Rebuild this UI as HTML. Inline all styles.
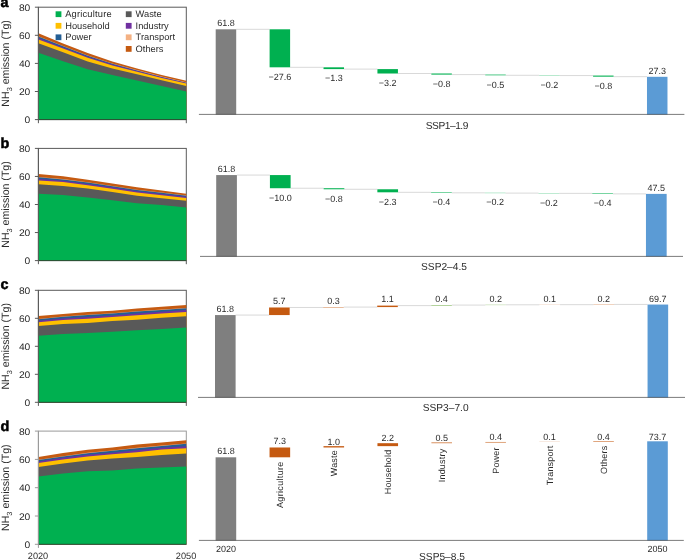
<!DOCTYPE html>
<html><head><meta charset="utf-8"><title>NH3 emission figure</title>
<style>
html,body{margin:0;padding:0;background:#fff;}
body{width:685px;height:560px;overflow:hidden;}
svg{display:block;font-family:"Liberation Sans", sans-serif;text-rendering:geometricPrecision;}
</style></head>
<body>
<svg width="685" height="560" viewBox="0 0 685 560">
<rect x="0" y="0" width="685" height="560" fill="#fff"/>
<rect x="38.4" y="7.2" width="147.9" height="112.4" fill="none" stroke="#5a5a5a" stroke-width="1"/>
<path d="M38.4,33.2 L63.05,43.4 L87.7,53.1 L112.35,61.4 L137,68.4 L161.65,75.1 L186.3,80.8 L186.3,119.6 L38.4,119.6 Z" fill="#C55A11"/>
<path d="M38.4,36.2 L63.05,46 L87.7,55.5 L112.35,63.5 L137,70.1 L161.65,76.6 L186.3,82.3 L186.3,119.6 L38.4,119.6 Z" fill="#F4B183"/>
<path d="M38.4,36.55 L63.05,46.35 L87.7,55.85 L112.35,63.85 L137,70.45 L161.65,76.95 L186.3,82.65 L186.3,119.6 L38.4,119.6 Z" fill="#235E94"/>
<path d="M38.4,38.1 L63.05,47.5 L87.7,56.8 L112.35,64.6 L137,71 L161.65,77.2 L186.3,83 L186.3,119.6 L38.4,119.6 Z" fill="#7030A0"/>
<path d="M38.4,39.4 L63.05,48.6 L87.7,57.8 L112.35,65.4 L137,71.8 L161.65,77.9 L186.3,83.6 L186.3,119.6 L38.4,119.6 Z" fill="#FFC000"/>
<path d="M38.4,43.3 L63.05,52.25 L87.7,61.5 L112.35,68.4 L137,74.2 L161.65,80.2 L186.3,86 L186.3,119.6 L38.4,119.6 Z" fill="#595959"/>
<path d="M38.4,52.7 L63.05,61.3 L87.7,69.2 L112.35,75.1 L137,80.4 L161.65,86 L186.3,91.6 L186.3,119.6 L38.4,119.6 Z" fill="#00B050"/>
<line x1="38.4" y1="119.6" x2="186.3" y2="119.6" stroke="#1f3b2a" stroke-opacity="0.75" stroke-width="1"/>
<line x1="38.4" y1="7.2" x2="38.4" y2="119.6" stroke="#5a5a5a" stroke-width="1"/>
<line x1="34.9" y1="119.6" x2="38.4" y2="119.6" stroke="#5a5a5a" stroke-width="1"/>
<text transform="translate(30.3,123.1) scale(1.08,1)" text-anchor="end" font-size="9.5" fill="#2b2b2b">0</text>
<line x1="34.9" y1="91.5" x2="38.4" y2="91.5" stroke="#5a5a5a" stroke-width="1"/>
<text transform="translate(30.3,95) scale(1.08,1)" text-anchor="end" font-size="9.5" fill="#2b2b2b">20</text>
<line x1="34.9" y1="63.4" x2="38.4" y2="63.4" stroke="#5a5a5a" stroke-width="1"/>
<text transform="translate(30.3,66.9) scale(1.08,1)" text-anchor="end" font-size="9.5" fill="#2b2b2b">40</text>
<line x1="34.9" y1="35.3" x2="38.4" y2="35.3" stroke="#5a5a5a" stroke-width="1"/>
<text transform="translate(30.3,38.8) scale(1.08,1)" text-anchor="end" font-size="9.5" fill="#2b2b2b">60</text>
<line x1="34.9" y1="7.2" x2="38.4" y2="7.2" stroke="#5a5a5a" stroke-width="1"/>
<text transform="translate(30.3,10.7) scale(1.08,1)" text-anchor="end" font-size="9.5" fill="#2b2b2b">80</text>
<line x1="38.4" y1="119.6" x2="38.4" y2="123.2" stroke="#5a5a5a" stroke-width="1"/>
<line x1="186.3" y1="119.6" x2="186.3" y2="123.2" stroke="#5a5a5a" stroke-width="1"/>
<text transform="translate(8.9,63.4) rotate(-90)" text-anchor="middle" font-size="10.6" fill="#2b2b2b">NH<tspan font-size="7.4" dy="2.6">3</tspan><tspan dy="-2.6"> emission (Tg)</tspan></text>
<text x="0.5" y="7.4" font-size="14.4" font-weight="bold" fill="#000" stroke="#000" stroke-width="0.5">a</text>
<rect x="38.4" y="148.4" width="147.9" height="112.2" fill="none" stroke="#5a5a5a" stroke-width="1"/>
<path d="M38.4,174.1 L63.05,176.3 L87.7,179.75 L112.35,183.45 L137,187.25 L161.65,190.5 L186.3,193.75 L186.3,260.6 L38.4,260.6 Z" fill="#C55A11"/>
<path d="M38.4,177 L63.05,179.1 L87.7,182.25 L112.35,185.9 L137,189.75 L161.65,192.5 L186.3,195.5 L186.3,260.6 L38.4,260.6 Z" fill="#F4B183"/>
<path d="M38.4,177.35 L63.05,179.45 L87.7,182.6 L112.35,186.25 L137,190.1 L161.65,192.85 L186.3,195.85 L186.3,260.6 L38.4,260.6 Z" fill="#235E94"/>
<path d="M38.4,178.95 L63.05,180.8 L87.7,184 L112.35,187.3 L137,191.25 L161.65,194 L186.3,196.75 L186.3,260.6 L38.4,260.6 Z" fill="#7030A0"/>
<path d="M38.4,180.45 L63.05,182.1 L87.7,185.25 L112.35,188.8 L137,192.5 L161.65,195.25 L186.3,198 L186.3,260.6 L38.4,260.6 Z" fill="#FFC000"/>
<path d="M38.4,184.2 L63.05,186.05 L87.7,188.5 L112.35,192.1 L137,195.75 L161.65,198.25 L186.3,200.75 L186.3,260.6 L38.4,260.6 Z" fill="#595959"/>
<path d="M38.4,193.7 L63.05,194.95 L87.7,197.5 L112.35,200.3 L137,203.25 L161.65,205 L186.3,207.5 L186.3,260.6 L38.4,260.6 Z" fill="#00B050"/>
<line x1="38.4" y1="260.6" x2="186.3" y2="260.6" stroke="#1f3b2a" stroke-opacity="0.75" stroke-width="1"/>
<line x1="38.4" y1="148.4" x2="38.4" y2="260.6" stroke="#5a5a5a" stroke-width="1"/>
<line x1="34.9" y1="260.6" x2="38.4" y2="260.6" stroke="#5a5a5a" stroke-width="1"/>
<text transform="translate(30.3,264.1) scale(1.08,1)" text-anchor="end" font-size="9.5" fill="#2b2b2b">0</text>
<line x1="34.9" y1="232.55" x2="38.4" y2="232.55" stroke="#5a5a5a" stroke-width="1"/>
<text transform="translate(30.3,236.05) scale(1.08,1)" text-anchor="end" font-size="9.5" fill="#2b2b2b">20</text>
<line x1="34.9" y1="204.5" x2="38.4" y2="204.5" stroke="#5a5a5a" stroke-width="1"/>
<text transform="translate(30.3,208) scale(1.08,1)" text-anchor="end" font-size="9.5" fill="#2b2b2b">40</text>
<line x1="34.9" y1="176.45" x2="38.4" y2="176.45" stroke="#5a5a5a" stroke-width="1"/>
<text transform="translate(30.3,179.95) scale(1.08,1)" text-anchor="end" font-size="9.5" fill="#2b2b2b">60</text>
<line x1="34.9" y1="148.4" x2="38.4" y2="148.4" stroke="#5a5a5a" stroke-width="1"/>
<text transform="translate(30.3,151.9) scale(1.08,1)" text-anchor="end" font-size="9.5" fill="#2b2b2b">80</text>
<line x1="38.4" y1="260.6" x2="38.4" y2="264.2" stroke="#5a5a5a" stroke-width="1"/>
<line x1="186.3" y1="260.6" x2="186.3" y2="264.2" stroke="#5a5a5a" stroke-width="1"/>
<text transform="translate(8.9,204.5) rotate(-90)" text-anchor="middle" font-size="10.6" fill="#2b2b2b">NH<tspan font-size="7.4" dy="2.6">3</tspan><tspan dy="-2.6"> emission (Tg)</tspan></text>
<text x="0.5" y="148.4" font-size="14.4" font-weight="bold" fill="#000" stroke="#000" stroke-width="0.5">b</text>
<rect x="38.4" y="290.3" width="147.9" height="112" fill="none" stroke="#5a5a5a" stroke-width="1"/>
<path d="M38.4,316.1 L63.05,313.9 L87.7,312 L112.35,310.75 L137,308.4 L161.65,306.75 L186.3,305.1 L186.3,402.3 L38.4,402.3 Z" fill="#C55A11"/>
<path d="M38.4,318.9 L63.05,316.4 L87.7,314.75 L112.35,313.25 L137,311.25 L161.65,309.6 L186.3,307.9 L186.3,402.3 L38.4,402.3 Z" fill="#F4B183"/>
<path d="M38.4,319.25 L63.05,316.75 L87.7,315.1 L112.35,313.6 L137,311.6 L161.65,309.95 L186.3,308.25 L186.3,402.3 L38.4,402.3 Z" fill="#235E94"/>
<path d="M38.4,320.7 L63.05,318.6 L87.7,317 L112.35,315.4 L137,313.4 L161.65,311.75 L186.3,310 L186.3,402.3 L38.4,402.3 Z" fill="#7030A0"/>
<path d="M38.4,322.2 L63.05,320.1 L87.7,318.75 L112.35,317 L137,315.3 L161.65,313.6 L186.3,311.9 L186.3,402.3 L38.4,402.3 Z" fill="#FFC000"/>
<path d="M38.4,326.1 L63.05,323.9 L87.7,323 L112.35,321.1 L137,319.7 L161.65,317.7 L186.3,316.3 L186.3,402.3 L38.4,402.3 Z" fill="#595959"/>
<path d="M38.4,335.7 L63.05,333.9 L87.7,333 L112.35,331.7 L137,330.3 L161.65,328.9 L186.3,327.6 L186.3,402.3 L38.4,402.3 Z" fill="#00B050"/>
<line x1="38.4" y1="402.3" x2="186.3" y2="402.3" stroke="#1f3b2a" stroke-opacity="0.75" stroke-width="1"/>
<line x1="38.4" y1="290.3" x2="38.4" y2="402.3" stroke="#5a5a5a" stroke-width="1"/>
<line x1="34.9" y1="402.3" x2="38.4" y2="402.3" stroke="#5a5a5a" stroke-width="1"/>
<text transform="translate(30.3,405.8) scale(1.08,1)" text-anchor="end" font-size="9.5" fill="#2b2b2b">0</text>
<line x1="34.9" y1="374.3" x2="38.4" y2="374.3" stroke="#5a5a5a" stroke-width="1"/>
<text transform="translate(30.3,377.8) scale(1.08,1)" text-anchor="end" font-size="9.5" fill="#2b2b2b">20</text>
<line x1="34.9" y1="346.3" x2="38.4" y2="346.3" stroke="#5a5a5a" stroke-width="1"/>
<text transform="translate(30.3,349.8) scale(1.08,1)" text-anchor="end" font-size="9.5" fill="#2b2b2b">40</text>
<line x1="34.9" y1="318.3" x2="38.4" y2="318.3" stroke="#5a5a5a" stroke-width="1"/>
<text transform="translate(30.3,321.8) scale(1.08,1)" text-anchor="end" font-size="9.5" fill="#2b2b2b">60</text>
<line x1="34.9" y1="290.3" x2="38.4" y2="290.3" stroke="#5a5a5a" stroke-width="1"/>
<text transform="translate(30.3,293.8) scale(1.08,1)" text-anchor="end" font-size="9.5" fill="#2b2b2b">80</text>
<line x1="38.4" y1="402.3" x2="38.4" y2="405.9" stroke="#5a5a5a" stroke-width="1"/>
<line x1="186.3" y1="402.3" x2="186.3" y2="405.9" stroke="#5a5a5a" stroke-width="1"/>
<text transform="translate(8.9,346.3) rotate(-90)" text-anchor="middle" font-size="10.6" fill="#2b2b2b">NH<tspan font-size="7.4" dy="2.6">3</tspan><tspan dy="-2.6"> emission (Tg)</tspan></text>
<text x="0.5" y="289" font-size="14.4" font-weight="bold" fill="#000" stroke="#000" stroke-width="0.5">c</text>
<rect x="38.4" y="431.1" width="147.9" height="113.2" fill="none" stroke="#9a9a9a" stroke-width="1"/>
<path d="M38.4,456.9 L63.05,453.1 L87.7,449.7 L112.35,447.4 L137,444.4 L161.65,442.4 L186.3,440.15 L186.3,544.3 L38.4,544.3 Z" fill="#C55A11"/>
<path d="M38.4,459.7 L63.05,456.25 L87.7,452.8 L112.35,450.5 L137,447.8 L161.65,445.6 L186.3,443.4 L186.3,544.3 L38.4,544.3 Z" fill="#F4B183"/>
<path d="M38.4,460.05 L63.05,456.6 L87.7,453.15 L112.35,450.85 L137,448.15 L161.65,445.95 L186.3,443.75 L186.3,544.3 L38.4,544.3 Z" fill="#235E94"/>
<path d="M38.4,461.5 L63.05,457.8 L87.7,454.7 L112.35,452.7 L137,450.3 L161.65,447.75 L186.3,446.3 L186.3,544.3 L38.4,544.3 Z" fill="#7030A0"/>
<path d="M38.4,463 L63.05,459.4 L87.7,456.6 L112.35,454.25 L137,452.2 L161.65,449.6 L186.3,448.2 L186.3,544.3 L38.4,544.3 Z" fill="#FFC000"/>
<path d="M38.4,466.9 L63.05,463.4 L87.7,460.6 L112.35,458.6 L137,456.9 L161.65,454.9 L186.3,453.6 L186.3,544.3 L38.4,544.3 Z" fill="#595959"/>
<path d="M38.4,476.5 L63.05,473.4 L87.7,471.25 L112.35,470.5 L137,468.4 L161.65,467.4 L186.3,466.5 L186.3,544.3 L38.4,544.3 Z" fill="#00B050"/>
<line x1="38.4" y1="544.3" x2="186.3" y2="544.3" stroke="#1f3b2a" stroke-opacity="0.75" stroke-width="1"/>
<line x1="38.4" y1="431.1" x2="38.4" y2="544.3" stroke="#9a9a9a" stroke-width="1"/>
<line x1="34.9" y1="544.3" x2="38.4" y2="544.3" stroke="#9a9a9a" stroke-width="1"/>
<text transform="translate(30.3,547.8) scale(1.08,1)" text-anchor="end" font-size="9.5" fill="#2b2b2b">0</text>
<line x1="34.9" y1="516" x2="38.4" y2="516" stroke="#9a9a9a" stroke-width="1"/>
<text transform="translate(30.3,519.5) scale(1.08,1)" text-anchor="end" font-size="9.5" fill="#2b2b2b">20</text>
<line x1="34.9" y1="487.7" x2="38.4" y2="487.7" stroke="#9a9a9a" stroke-width="1"/>
<text transform="translate(30.3,491.2) scale(1.08,1)" text-anchor="end" font-size="9.5" fill="#2b2b2b">40</text>
<line x1="34.9" y1="459.4" x2="38.4" y2="459.4" stroke="#9a9a9a" stroke-width="1"/>
<text transform="translate(30.3,462.9) scale(1.08,1)" text-anchor="end" font-size="9.5" fill="#2b2b2b">60</text>
<line x1="34.9" y1="431.1" x2="38.4" y2="431.1" stroke="#9a9a9a" stroke-width="1"/>
<text transform="translate(30.3,434.6) scale(1.08,1)" text-anchor="end" font-size="9.5" fill="#2b2b2b">80</text>
<line x1="38.4" y1="544.3" x2="38.4" y2="547.9" stroke="#9a9a9a" stroke-width="1"/>
<text transform="translate(8.9,487.7) rotate(-90)" text-anchor="middle" font-size="10.6" fill="#2b2b2b">NH<tspan font-size="7.4" dy="2.6">3</tspan><tspan dy="-2.6"> emission (Tg)</tspan></text>
<text x="0.5" y="431.4" font-size="14.4" font-weight="bold" fill="#000" stroke="#000" stroke-width="0.5">d</text>
<text x="38" y="558.6" text-anchor="middle" font-size="9.2" fill="#2b2b2b">2020</text>
<text x="186.1" y="558.6" text-anchor="middle" font-size="9.2" fill="#2b2b2b">2050</text>
<rect x="55.6" y="11.3" width="5.8" height="5.8" fill="#00B050"/>
<text x="65.2" y="17.2" font-size="9.3" letter-spacing="0.2" fill="#2b2b2b">Agriculture</text>
<rect x="55.6" y="22.9" width="5.8" height="5.8" fill="#FFC000"/>
<text x="65.2" y="28.8" font-size="9.3" fill="#2b2b2b">Household</text>
<rect x="55.6" y="34.4" width="5.8" height="5.8" fill="#235E94"/>
<text x="65.2" y="40.3" font-size="9.3" fill="#2b2b2b">Power</text>
<rect x="125.8" y="11.3" width="5.8" height="5.8" fill="#595959"/>
<text x="135.6" y="17.2" font-size="9.3" fill="#2b2b2b">Waste</text>
<rect x="125.8" y="22.9" width="5.8" height="5.8" fill="#7030A0"/>
<text x="135.6" y="28.8" font-size="9.3" fill="#2b2b2b">Industry</text>
<rect x="125.8" y="34.4" width="5.8" height="5.8" fill="#F4B183"/>
<text x="135.6" y="40.3" font-size="9.3" fill="#2b2b2b">Transport</text>
<rect x="125.8" y="46" width="5.8" height="5.8" fill="#C55A11"/>
<text x="135.6" y="51.9" font-size="9.3" fill="#2b2b2b">Others</text>
<line x1="236.2" y1="29.3" x2="269.61" y2="29.3" stroke="#d9d9d9" stroke-width="1"/>
<line x1="290.11" y1="67.31" x2="323.52" y2="67.31" stroke="#d9d9d9" stroke-width="1"/>
<line x1="344.02" y1="69.1" x2="377.43" y2="69.1" stroke="#d9d9d9" stroke-width="1"/>
<line x1="397.93" y1="73.5" x2="431.34" y2="73.5" stroke="#d9d9d9" stroke-width="1"/>
<line x1="451.84" y1="74.6" x2="485.25" y2="74.6" stroke="#d9d9d9" stroke-width="1"/>
<line x1="505.75" y1="75.29" x2="539.16" y2="75.29" stroke="#d9d9d9" stroke-width="1"/>
<line x1="559.66" y1="75.57" x2="593.07" y2="75.57" stroke="#d9d9d9" stroke-width="1"/>
<line x1="613.57" y1="76.67" x2="646.98" y2="76.67" stroke="#d9d9d9" stroke-width="1"/>
<rect x="215.7" y="29.3" width="20.5" height="85.1" fill="#7f7f7f"/>
<text x="225.95" y="26.3" text-anchor="middle" font-size="9" fill="#2b2b2b">61.8</text>
<rect x="269.61" y="29.3" width="20.5" height="38.01" fill="#00B050"/>
<text x="279.86" y="79.61" text-anchor="middle" font-size="9" fill="#2b2b2b">−27.6</text>
<rect x="323.52" y="67.31" width="20.5" height="1.79" fill="#00B050"/>
<text x="333.77" y="81.4" text-anchor="middle" font-size="9" fill="#2b2b2b">−1.3</text>
<rect x="377.43" y="69.1" width="20.5" height="4.41" fill="#00B050"/>
<text x="387.68" y="85.8" text-anchor="middle" font-size="9" fill="#2b2b2b">−3.2</text>
<rect x="431.34" y="73.5" width="20.5" height="1.1" fill="#00B050"/>
<text x="441.59" y="86.9" text-anchor="middle" font-size="9" fill="#2b2b2b">−0.8</text>
<rect x="485.25" y="74.6" width="20.5" height="0.69" fill="#00B050"/>
<text x="495.5" y="87.59" text-anchor="middle" font-size="9" fill="#2b2b2b">−0.5</text>
<rect x="539.16" y="75.29" width="20.5" height="0.28" fill="#00B050"/>
<text x="549.41" y="87.87" text-anchor="middle" font-size="9" fill="#2b2b2b">−0.2</text>
<rect x="593.07" y="75.57" width="20.5" height="1.1" fill="#00B050"/>
<text x="603.32" y="88.97" text-anchor="middle" font-size="9" fill="#2b2b2b">−0.8</text>
<rect x="646.98" y="76.81" width="20.5" height="37.59" fill="#5B9BD5"/>
<text x="657.23" y="73.81" text-anchor="middle" font-size="9" fill="#2b2b2b">27.3</text>
<line x1="198.9" y1="114.4" x2="684.4" y2="114.4" stroke="#000" stroke-opacity="0.52" stroke-width="1"/>
<text x="447.1" y="128.8" text-anchor="middle" font-size="10.2" textLength="42.6" fill="#2b2b2b">SSP1–1.9</text>
<line x1="236.9" y1="175.07" x2="269.92" y2="175.07" stroke="#d9d9d9" stroke-width="1"/>
<line x1="290.62" y1="188.23" x2="323.64" y2="188.23" stroke="#d9d9d9" stroke-width="1"/>
<line x1="344.34" y1="189.28" x2="377.36" y2="189.28" stroke="#d9d9d9" stroke-width="1"/>
<line x1="398.06" y1="192.31" x2="431.08" y2="192.31" stroke="#d9d9d9" stroke-width="1"/>
<line x1="451.78" y1="192.84" x2="484.8" y2="192.84" stroke="#d9d9d9" stroke-width="1"/>
<line x1="505.5" y1="193.1" x2="538.52" y2="193.1" stroke="#d9d9d9" stroke-width="1"/>
<line x1="559.22" y1="193.36" x2="592.24" y2="193.36" stroke="#d9d9d9" stroke-width="1"/>
<line x1="612.94" y1="193.89" x2="645.96" y2="193.89" stroke="#d9d9d9" stroke-width="1"/>
<rect x="216.2" y="175.07" width="20.7" height="81.33" fill="#7f7f7f"/>
<text x="226.55" y="172.07" text-anchor="middle" font-size="9" fill="#2b2b2b">61.8</text>
<rect x="269.92" y="175.07" width="20.7" height="13.16" fill="#00B050"/>
<text x="280.27" y="200.53" text-anchor="middle" font-size="9" fill="#2b2b2b">−10.0</text>
<rect x="323.64" y="188.23" width="20.7" height="1.05" fill="#00B050"/>
<text x="333.99" y="201.58" text-anchor="middle" font-size="9" fill="#2b2b2b">−0.8</text>
<rect x="377.36" y="189.28" width="20.7" height="3.03" fill="#00B050"/>
<text x="387.71" y="204.61" text-anchor="middle" font-size="9" fill="#2b2b2b">−2.3</text>
<rect x="431.08" y="192.31" width="20.7" height="0.53" fill="#00B050"/>
<text x="441.43" y="205.14" text-anchor="middle" font-size="9" fill="#2b2b2b">−0.4</text>
<rect x="484.8" y="192.84" width="20.7" height="0.26" fill="#00B050"/>
<text x="495.15" y="205.4" text-anchor="middle" font-size="9" fill="#2b2b2b">−0.2</text>
<rect x="538.52" y="193.1" width="20.7" height="0.26" fill="#00B050"/>
<text x="548.87" y="205.66" text-anchor="middle" font-size="9" fill="#2b2b2b">−0.2</text>
<rect x="592.24" y="193.36" width="20.7" height="0.53" fill="#00B050"/>
<text x="602.59" y="206.19" text-anchor="middle" font-size="9" fill="#2b2b2b">−0.4</text>
<rect x="645.96" y="193.89" width="20.7" height="62.51" fill="#5B9BD5"/>
<text x="656.31" y="190.89" text-anchor="middle" font-size="9" fill="#2b2b2b">47.5</text>
<line x1="200" y1="256.4" x2="683" y2="256.4" stroke="#000" stroke-opacity="0.52" stroke-width="1"/>
<text x="444" y="270.4" text-anchor="middle" font-size="10.2" fill="#2b2b2b">SSP2–4.5</text>
<line x1="235.6" y1="315.07" x2="269.07" y2="315.07" stroke="#d9d9d9" stroke-width="1"/>
<line x1="289.67" y1="307.48" x2="323.14" y2="307.48" stroke="#d9d9d9" stroke-width="1"/>
<line x1="343.74" y1="307.08" x2="377.21" y2="307.08" stroke="#d9d9d9" stroke-width="1"/>
<line x1="397.81" y1="305.61" x2="431.28" y2="305.61" stroke="#d9d9d9" stroke-width="1"/>
<line x1="451.88" y1="305.08" x2="485.35" y2="305.08" stroke="#d9d9d9" stroke-width="1"/>
<line x1="505.95" y1="304.81" x2="539.42" y2="304.81" stroke="#d9d9d9" stroke-width="1"/>
<line x1="560.02" y1="304.68" x2="593.49" y2="304.68" stroke="#d9d9d9" stroke-width="1"/>
<line x1="614.09" y1="304.41" x2="647.56" y2="304.41" stroke="#d9d9d9" stroke-width="1"/>
<rect x="215" y="315.07" width="20.6" height="82.33" fill="#7f7f7f"/>
<text x="225.3" y="312.07" text-anchor="middle" font-size="9" fill="#2b2b2b">61.8</text>
<rect x="269.07" y="307.48" width="20.6" height="7.59" fill="#C55A11"/>
<text x="279.37" y="304.48" text-anchor="middle" font-size="9" fill="#2b2b2b">5.7</text>
<rect x="323.14" y="307.08" width="20.6" height="0.4" fill="#C55A11"/>
<text x="333.44" y="304.08" text-anchor="middle" font-size="9" fill="#2b2b2b">0.3</text>
<rect x="377.21" y="305.61" width="20.6" height="1.47" fill="#C55A11"/>
<text x="387.51" y="301.81" text-anchor="middle" font-size="9" fill="#2b2b2b">1.1</text>
<rect x="431.28" y="305.08" width="20.6" height="0.53" fill="#70AD47"/>
<text x="441.58" y="302.08" text-anchor="middle" font-size="9" fill="#2b2b2b">0.4</text>
<rect x="485.35" y="304.81" width="20.6" height="0.27" fill="#70AD47"/>
<text x="495.65" y="301.81" text-anchor="middle" font-size="9" fill="#2b2b2b">0.2</text>
<rect x="539.42" y="304.68" width="20.6" height="0.13" fill="#C55A11"/>
<text x="549.72" y="302.08" text-anchor="middle" font-size="9" fill="#2b2b2b">0.1</text>
<rect x="593.49" y="304.41" width="20.6" height="0.27" fill="#C55A11"/>
<text x="603.79" y="301.81" text-anchor="middle" font-size="9" fill="#2b2b2b">0.2</text>
<rect x="647.56" y="304.55" width="20.6" height="92.85" fill="#5B9BD5"/>
<text x="657.86" y="301.55" text-anchor="middle" font-size="9" fill="#2b2b2b">69.7</text>
<line x1="198" y1="397.4" x2="685" y2="397.4" stroke="#000" stroke-opacity="0.52" stroke-width="1"/>
<text x="445.65" y="411.3" text-anchor="middle" font-size="10.2" fill="#2b2b2b">SSP3–7.0</text>
<rect x="215.6" y="457.3" width="20.6" height="83.1" fill="#7f7f7f"/>
<text x="225.9" y="454.3" text-anchor="middle" font-size="9" fill="#2b2b2b">61.8</text>
<rect x="269.55" y="447.48" width="20.6" height="9.82" fill="#C55A11"/>
<text x="279.85" y="444.48" text-anchor="middle" font-size="9" fill="#2b2b2b">7.3</text>
<text transform="translate(283.05,461.7) rotate(-90)" text-anchor="end" font-size="9" textLength="46.3" fill="#2b2b2b">Agriculture</text>
<rect x="323.5" y="446.14" width="20.6" height="1.34" fill="#C55A11"/>
<text x="333.8" y="444.74" text-anchor="middle" font-size="9" fill="#2b2b2b">1.0</text>
<text transform="translate(337,450.3) rotate(-90)" text-anchor="end" font-size="9" textLength="25.9" fill="#2b2b2b">Waste</text>
<rect x="377.45" y="443.18" width="20.6" height="2.96" fill="#C55A11"/>
<text x="387.75" y="441.48" text-anchor="middle" font-size="9" fill="#2b2b2b">2.2</text>
<text transform="translate(390.95,449.84) rotate(-90)" text-anchor="end" font-size="9" textLength="44.4" fill="#2b2b2b">Household</text>
<rect x="431.4" y="442.51" width="20.6" height="0.67" fill="#C55A11"/>
<text x="441.7" y="441.11" text-anchor="middle" font-size="9" fill="#2b2b2b">0.5</text>
<text transform="translate(444.9,448.8) rotate(-90)" text-anchor="end" font-size="9" textLength="33.5" fill="#2b2b2b">Industry</text>
<rect x="485.35" y="441.97" width="20.6" height="0.54" fill="#C55A11"/>
<text x="495.65" y="439.77" text-anchor="middle" font-size="9" fill="#2b2b2b">0.4</text>
<text transform="translate(498.85,447.6) rotate(-90)" text-anchor="end" font-size="9" textLength="26.2" fill="#2b2b2b">Power</text>
<rect x="539.3" y="441.84" width="20.6" height="0.13" fill="#C55A11"/>
<text x="549.6" y="439.64" text-anchor="middle" font-size="9" fill="#2b2b2b">0.1</text>
<text transform="translate(552.8,445.7) rotate(-90)" text-anchor="end" font-size="9" textLength="39.6" fill="#2b2b2b">Transport</text>
<rect x="593.25" y="441.3" width="20.6" height="0.54" fill="#C55A11"/>
<text x="603.55" y="439.9" text-anchor="middle" font-size="9" fill="#2b2b2b">0.4</text>
<text transform="translate(606.75,445.7) rotate(-90)" text-anchor="end" font-size="9" textLength="28.3" fill="#2b2b2b">Others</text>
<rect x="647.2" y="441.3" width="20.6" height="99.1" fill="#5B9BD5"/>
<text x="657.5" y="439.6" text-anchor="middle" font-size="9" fill="#2b2b2b">73.7</text>
<line x1="198.9" y1="540.4" x2="683.8" y2="540.4" stroke="#000" stroke-opacity="0.52" stroke-width="1"/>
<text x="442" y="560" text-anchor="middle" font-size="10.2" fill="#2b2b2b">SSP5–8.5</text>
<text x="225.9" y="552.1" text-anchor="middle" font-size="9" fill="#2b2b2b">2020</text>
<text x="657.5" y="552.1" text-anchor="middle" font-size="9" fill="#2b2b2b">2050</text>
</svg>
</body></html>
